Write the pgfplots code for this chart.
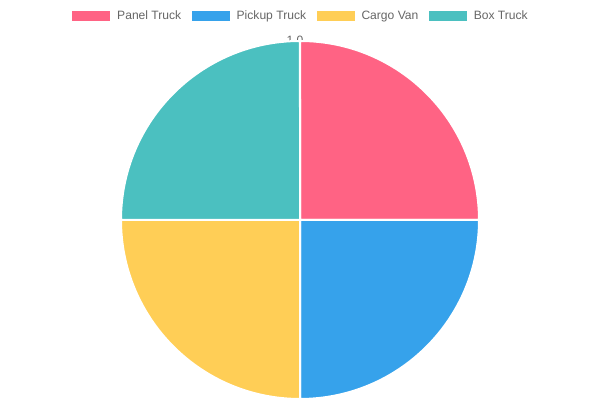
\documentclass[border=0pt]{standalone}
\usepackage{pgfplots}
\usepackage{pgfplotstable}
\pgfplotsset{compat=1.18}
\usepackage{fontspec}
\setmainfont{Liberation Sans}

\definecolor{panel}{RGB}{255,99,132}
\definecolor{pickup}{RGB}{54,162,235}
\definecolor{cargo}{RGB}{255,206,86}
\definecolor{boxtr}{RGB}{75,192,192}
\definecolor{legtext}{RGB}{102,102,102}

% slice values, in drawing order (clockwise from 12 o'clock)
\pgfplotstableread{
name value color
Panel 1 panel
Pickup 1 pickup
Cargo 1 cargo
Box 1 boxtr
}\piedata

\begin{document}
\begin{tikzpicture}
\begin{axis}[
  scale only axis,
  x=4.475cm, y=4.475cm,
  xmin=-1.676, xmax=1.676,
  ymin=-1.0056, ymax=1.229,
  hide axis,
  clip=false,
  legend columns=4,
  legend cell align={left},
  legend image code/.code={\fill[#1, draw=none] (0cm,-0.125cm) rectangle (0.95cm,0.125cm);},
  legend style={
    at={(0.5,0.96)}, anchor=center,
    draw=none, fill=none, inner sep=0pt,
    font=\fontsize{8.6pt}{10pt}\selectfont, text=legtext,
    nodes={inner xsep=0pt, inner ysep=1pt},
    /tikz/every odd column/.append style={column sep=0.175cm},
    /tikz/every even column/.append style={column sep=0.26cm},
  },
]
\path (rel axis cs:0,0) rectangle (rel axis cs:1,1);
\node[anchor=base, text=legtext, font=\fontsize{8.6pt}{10pt}\selectfont]
  at (axis cs:-0.028,0.983) {1.0};

\pgfmathsetmacro\total{0}
\pgfplotsforeachungrouped \i in {0,...,3}{%
  \pgfplotstablegetelem{\i}{value}\of\piedata
  \pgfmathsetmacro\total{\total+\pgfplotsretval}%
}
\def\startang{90}
\pgfplotsforeachungrouped \i in {0,...,3}{%
  \pgfplotstablegetelem{\i}{value}\of\piedata
  \pgfmathsetmacro\endang{\startang-360*\pgfplotsretval/\total}%
  \pgfplotstablegetelem{\i}{color}\of\piedata
  \let\col\pgfplotsretval
  \pgfmathsetmacro\sx{cos(\startang)}%
  \pgfmathsetmacro\sy{sin(\startang)}%
  \edef\tmp{\noexpand\filldraw[fill=\col, draw=white, line width=0.05cm, line join=round]
    (axis cs:0,0) -- (axis cs:\sx,\sy)
    arc[start angle=\startang, end angle=\endang, radius=4.475cm] -- cycle;}%
  \tmp
  \let\startang\endang
}

\addlegendimage{fill=panel, draw=none}
\addlegendentry{Panel Truck}
\addlegendimage{fill=pickup, draw=none}
\addlegendentry{Pickup Truck}
\addlegendimage{fill=cargo, draw=none}
\addlegendentry{Cargo Van}
\addlegendimage{fill=boxtr, draw=none}
\addlegendentry{Box Truck}
\end{axis}
\end{tikzpicture}
\end{document}
